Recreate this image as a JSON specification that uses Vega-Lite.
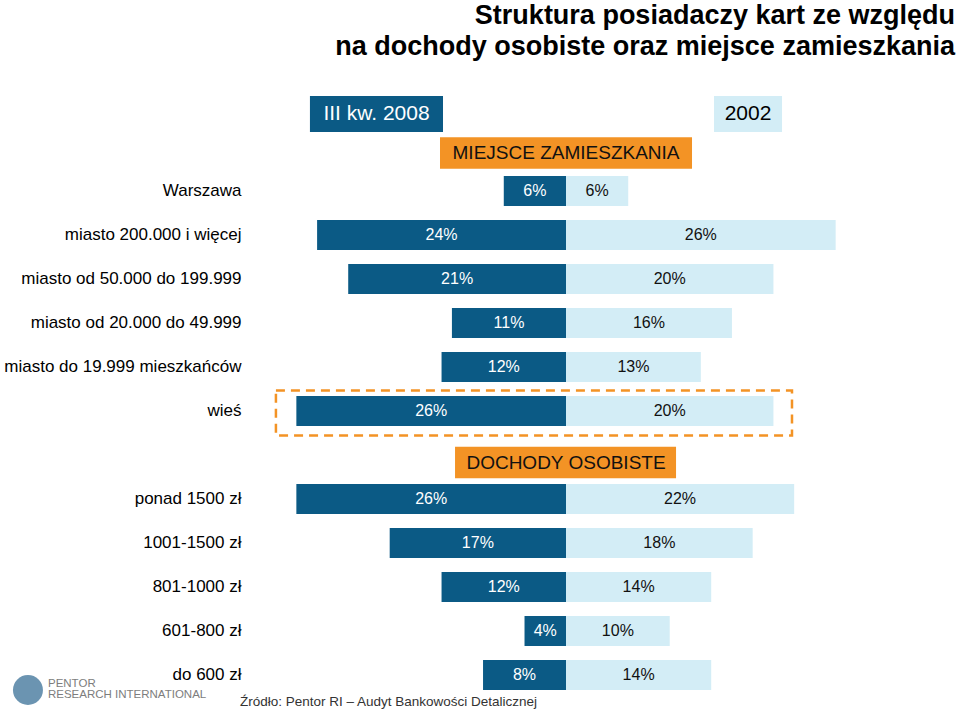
{
  "$schema": "https://vega.github.io/schema/vega-lite/v6.json",
  "width": 710,
  "height": 616,
  "autosize": {"type": "none"},
  "padding": {"left": 250, "top": 81, "right": 0, "bottom": 13},
  "background": "white",
  "config": {"view": {"stroke": null}, "font": "Liberation Sans"},
  "title": {
    "text": ["Struktura posiadaczy kart ze względu", "na dochody osobiste oraz miejsce zamieszkania"],
    "anchor": "end",
    "fontSize": 27,
    "fontWeight": "bold",
    "font": "Liberation Sans",
    "color": "#000000",
    "lineHeight": 31,
    "offset": 20,
    "dx": -5
  },
  "data": {
    "values": [
      {"cat": "Warszawa", "v2008": 0.06, "v2002": 0.06},
      {"cat": "miasto 200.000 i więcej", "v2008": 0.24, "v2002": 0.26},
      {"cat": "miasto od 50.000 do 199.999", "v2008": 0.21, "v2002": 0.20},
      {"cat": "miasto od 20.000 do 49.999", "v2008": 0.11, "v2002": 0.16},
      {"cat": "miasto do 19.999 mieszkańców", "v2008": 0.12, "v2002": 0.13},
      {"cat": "wieś", "v2008": 0.26, "v2002": 0.20},
      {"cat": "ponad 1500 zł", "v2008": 0.26, "v2002": 0.22},
      {"cat": "1001-1500 zł", "v2008": 0.17, "v2002": 0.18},
      {"cat": "801-1000 zł", "v2008": 0.12, "v2002": 0.14},
      {"cat": "601-800 zł", "v2008": 0.04, "v2002": 0.10},
      {"cat": "do 600 zł", "v2008": 0.08, "v2002": 0.14}
    ]
  },
  "resolve": {"scale": {"x": "independent"}},
  "layer": [
    {
      "mark": {"type": "bar", "color": "#0b5a85"},
      "encoding": {
        "y": {
          "field": "cat", "type": "nominal", "sort": null,
          "scale": {
            "domain": ["legend", "hdr1", "Warszawa", "miasto 200.000 i więcej", "miasto od 50.000 do 199.999", "miasto od 20.000 do 49.999", "miasto do 19.999 mieszkańców", "wieś", "hdr2", "ponad 1500 zł", "1001-1500 zł", "801-1000 zł", "601-800 zł", "do 600 zł"],
            "paddingInner": 0.318, "paddingOuter": 0.159
          },
          "axis": {
            "title": null, "domain": false, "ticks": false,
            "values": ["Warszawa", "miasto 200.000 i więcej", "miasto od 50.000 do 199.999", "miasto od 20.000 do 49.999", "miasto do 19.999 mieszkańców", "wieś", "ponad 1500 zł", "1001-1500 zł", "801-1000 zł", "601-800 zł", "do 600 zł"],
            "labelFont": "Liberation Sans", "labelFontSize": 17, "labelFontWeight": "normal",
            "labelColor": "#000000", "labelPadding": 9, "labelLimit": 0
          }
        },
        "x": {"field": "v2008", "type": "quantitative", "axis": null,
              "scale": {"domain": [-0.3799, 0.3047], "reverse": true, "nice": false, "zero": false}}
      }
    },
    {
      "mark": {"type": "bar", "color": "#d3edf6"},
      "encoding": {
        "y": {"field": "cat", "type": "nominal", "sort": null},
        "x": {"field": "v2002", "type": "quantitative", "axis": null,
              "scale": {"domain": [-0.3047, 0.3799], "nice": false, "zero": false}}
      }
    },
    {
      "mark": {"type": "text", "color": "#ffffff", "fontSize": 16, "font": "Liberation Sans"},
      "encoding": {
        "y": {"field": "cat", "type": "nominal", "sort": null},
        "x": {"field": "v2008", "type": "quantitative", "axis": null,
              "scale": {"domain": [-0.7598, 0.6094], "reverse": true, "nice": false, "zero": false}},
        "text": {"field": "v2008", "type": "quantitative", "format": ".0%"}
      }
    },
    {
      "mark": {"type": "text", "color": "#111111", "fontSize": 16, "font": "Liberation Sans"},
      "encoding": {
        "y": {"field": "cat", "type": "nominal", "sort": null},
        "x": {"field": "v2002", "type": "quantitative", "axis": null,
              "scale": {"domain": [-0.6094, 0.7598], "nice": false, "zero": false}},
        "text": {"field": "v2002", "type": "quantitative", "format": ".0%"}
      }
    },
    {
      "data": {"values": [{}]},
      "mark": {"type": "bar", "color": "#0b5a85", "height": {"band": 1.2}, "yOffset": 11},
      "encoding": {
        "y": {"datum": "legend"},
        "x": {"datum": -0.2469, "type": "quantitative", "axis": null, "scale": {"domain": [-0.3047, 0.3799], "nice": false, "zero": false}},
        "x2": {"datum": -0.1186}
      }
    },
    {
      "data": {"values": [{}]},
      "mark": {"type": "text", "color": "#ffffff", "fontSize": 21, "font": "Liberation Sans", "yOffset": 11},
      "encoding": {
        "y": {"datum": "legend"},
        "x": {"datum": -0.1827, "type": "quantitative", "axis": null, "scale": {"domain": [-0.3047, 0.3799], "nice": false, "zero": false}},
        "text": {"value": "III kw. 2008"}
      }
    },
    {
      "data": {"values": [{}]},
      "mark": {"type": "bar", "color": "#d3edf6", "height": {"band": 1.2}, "yOffset": 11},
      "encoding": {
        "y": {"datum": "legend"},
        "x": {"datum": 0.1427, "type": "quantitative", "axis": null, "scale": {"domain": [-0.3047, 0.3799], "nice": false, "zero": false}},
        "x2": {"datum": 0.2083}
      }
    },
    {
      "data": {"values": [{}]},
      "mark": {"type": "text", "color": "#000000", "fontSize": 21, "font": "Liberation Sans", "yOffset": 11},
      "encoding": {
        "y": {"datum": "legend"},
        "x": {"datum": 0.1755, "type": "quantitative", "axis": null, "scale": {"domain": [-0.3047, 0.3799], "nice": false, "zero": false}},
        "text": {"value": "2002"}
      }
    },
    {
      "data": {"values": [{}]},
      "mark": {"type": "bar", "color": "#f39325", "height": {"band": 1.05}, "yOffset": 6},
      "encoding": {
        "y": {"datum": "hdr1"},
        "x": {"datum": -0.1215, "type": "quantitative", "axis": null, "scale": {"domain": [-0.3047, 0.3799], "nice": false, "zero": false}},
        "x2": {"datum": 0.1215}
      }
    },
    {
      "data": {"values": [{}]},
      "mark": {"type": "text", "color": "#111111", "fontSize": 19, "font": "Liberation Sans", "yOffset": 6},
      "encoding": {
        "y": {"datum": "hdr1"},
        "x": {"datum": 0, "type": "quantitative", "axis": null, "scale": {"domain": [-0.3047, 0.3799], "nice": false, "zero": false}},
        "text": {"value": "MIEJSCE ZAMIESZKANIA"}
      }
    },
    {
      "data": {"values": [{}]},
      "mark": {"type": "bar", "color": "#f39325", "height": {"band": 1.05}, "yOffset": 7.5},
      "encoding": {
        "y": {"datum": "hdr2"},
        "x": {"datum": -0.1070, "type": "quantitative", "axis": null, "scale": {"domain": [-0.3047, 0.3799], "nice": false, "zero": false}},
        "x2": {"datum": 0.1061}
      }
    },
    {
      "data": {"values": [{}]},
      "mark": {"type": "text", "color": "#111111", "fontSize": 19, "font": "Liberation Sans", "yOffset": 7.5},
      "encoding": {
        "y": {"datum": "hdr2"},
        "x": {"datum": 0, "type": "quantitative", "axis": null, "scale": {"domain": [-0.3047, 0.3799], "nice": false, "zero": false}},
        "text": {"value": "DOCHODY OSOBISTE"}
      }
    },
    {
      "data": {"values": [{}]},
      "mark": {"type": "bar", "fillOpacity": 0, "stroke": "#f39325", "strokeWidth": 2.5, "strokeDash": [9, 6], "height": {"band": 1.5}, "yOffset": 2},
      "encoding": {
        "y": {"datum": "wieś"},
        "x": {"datum": -0.2797, "type": "quantitative", "axis": null, "scale": {"domain": [-0.3047, 0.3799], "nice": false, "zero": false}},
        "x2": {"datum": 0.2179}
      }
    },
    {
      "data": {"values": [{}]},
      "mark": {"type": "text", "color": "#333333", "fontSize": 13.5, "font": "Liberation Sans", "align": "left", "yOffset": 27},
      "encoding": {
        "y": {"datum": "do 600 zł"},
        "x": {"datum": -0.3144, "type": "quantitative", "axis": null, "scale": {"domain": [-0.3047, 0.3799], "nice": false, "zero": false}},
        "text": {"value": "Źródło: Pentor RI – Audyt Bankowości Detalicznej"}
      }
    },
    {
      "data": {"values": [{}]},
      "mark": {"type": "point", "shape": "circle", "filled": true, "color": "#5b88a8", "opacity": 0.9, "size": 900, "yOffset": 15},
      "encoding": {
        "y": {"datum": "do 600 zł"},
        "x": {"datum": -0.5188, "type": "quantitative", "axis": null, "scale": {"domain": [-0.3047, 0.3799], "nice": false, "zero": false}}
      }
    },
    {
      "data": {"values": [{"t": "PENTOR"}]},
      "mark": {"type": "text", "color": "#7d7d7d", "fontSize": 11.5, "font": "Liberation Sans", "align": "left", "yOffset": 9},
      "encoding": {
        "y": {"datum": "do 600 zł"},
        "x": {"datum": -0.4995, "type": "quantitative", "axis": null, "scale": {"domain": [-0.3047, 0.3799], "nice": false, "zero": false}},
        "text": {"field": "t"}
      }
    },
    {
      "data": {"values": [{"t": "RESEARCH INTERNATIONAL"}]},
      "mark": {"type": "text", "color": "#7d7d7d", "fontSize": 11.5, "font": "Liberation Sans", "align": "left", "yOffset": 20},
      "encoding": {
        "y": {"datum": "do 600 zł"},
        "x": {"datum": -0.4995, "type": "quantitative", "axis": null, "scale": {"domain": [-0.3047, 0.3799], "nice": false, "zero": false}},
        "text": {"field": "t"}
      }
    }
  ]
}
